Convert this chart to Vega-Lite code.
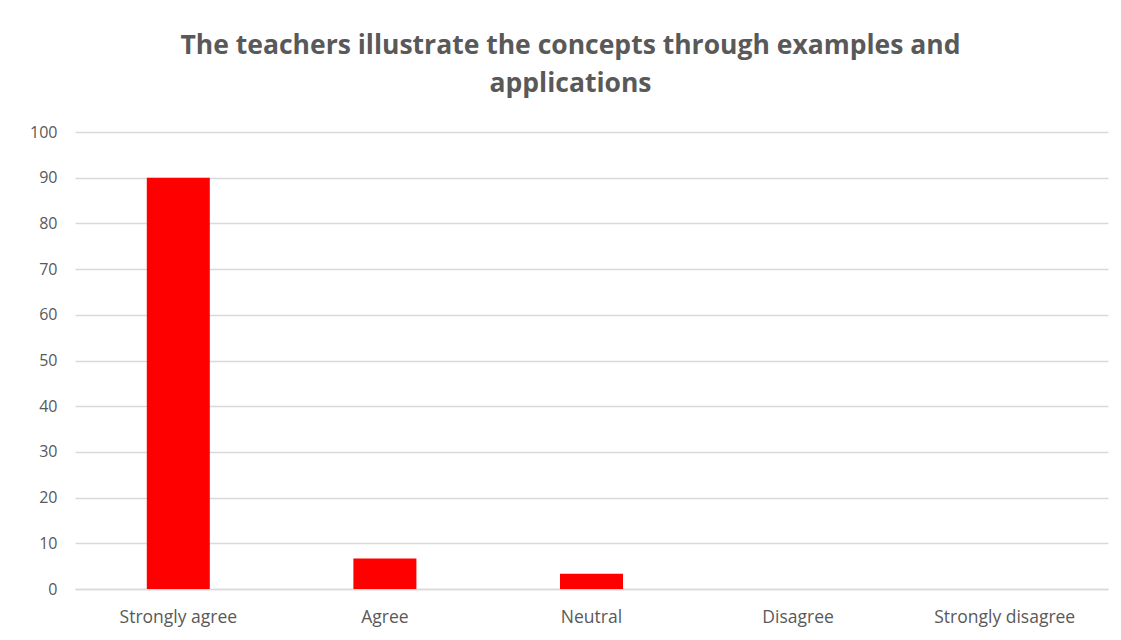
{
  "$schema": "https://vega.github.io/schema/vega-lite/v6.json",
  "width": 1033,
  "height": 457,
  "autosize": {"type": "none"},
  "padding": {"left": 75, "top": 132, "right": 13, "bottom": 51},
  "background": "white",
  "title": {
    "text": ["The teachers illustrate the concepts through examples and", "applications"],
    "font": "Open Sans",
    "fontSize": 26.5,
    "fontWeight": "bold",
    "color": "#595959",
    "lineHeight": 38,
    "anchor": "middle",
    "dx": -21,
    "offset": 27
  },
  "data": {
    "values": [
      {"response": "Strongly agree", "percent": 90},
      {"response": "Agree", "percent": 6.67},
      {"response": "Neutral", "percent": 3.33},
      {"response": "Disagree", "percent": 0},
      {"response": "Strongly disagree", "percent": 0}
    ]
  },
  "mark": {"type": "bar", "color": "#ff0000"},
  "encoding": {
    "x": {
      "field": "response",
      "type": "nominal",
      "sort": null,
      "scale": {"paddingInner": 0.695, "paddingOuter": 0.3475},
      "axis": {
        "title": null,
        "labelAngle": 0,
        "labelFont": "Open Sans",
        "labelFontSize": 17.5,
        "labelColor": "#595959",
        "labelPadding": 19,
        "ticks": false,
        "domainColor": "#d9d9d9",
        "domainWidth": 1.5
      }
    },
    "y": {
      "field": "percent",
      "type": "quantitative",
      "scale": {"domain": [0, 100]},
      "axis": {
        "title": null,
        "values": [0, 10, 20, 30, 40, 50, 60, 70, 80, 90, 100],
        "labelFont": "Open Sans",
        "labelFontSize": 16,
        "labelColor": "#595959",
        "labelPadding": 18,
        "ticks": false,
        "domain": false,
        "gridColor": "#d9d9d9",
        "gridWidth": 1.5
      }
    }
  },
  "config": {"view": {"stroke": null}}
}
